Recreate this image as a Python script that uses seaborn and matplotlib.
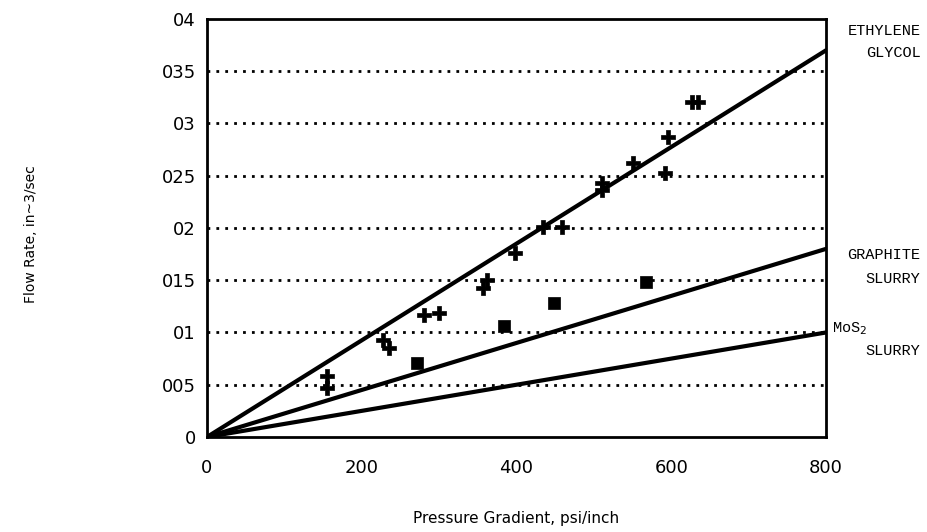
import matplotlib
matplotlib.use("Agg")
import matplotlib.pyplot as plt
import seaborn as sns
import pandas as pd

# Measured flow rates (ethylene glycol, plus markers)
glycol_dp = [155, 155, 228, 235, 280, 300, 357, 362, 398, 434, 459, 510, 510, 550, 592, 596, 627, 635]
glycol_q = [0.058, 0.047, 0.093, 0.085, 0.117, 0.119, 0.143, 0.150, 0.176, 0.201, 0.201, 0.243, 0.236, 0.262, 0.253, 0.287, 0.321, 0.321]

# Measured flow rates (graphite slurry, square markers)
graphite_dp = [271, 384, 448, 568]
graphite_q = [0.071, 0.106, 0.128, 0.148]

# Fitted lines through the origin
line_dp = [0, 800]
line_glycol = [0.0, 0.370]
line_graphite = [0.0, 0.180]
line_mos2 = [0.0, 0.100]

x_ticks = [0, 200, 400, 600, 800]
x_labels = ["0", "200", "400", "600", "800"]
y_ticks = [0, 0.05, 0.1, 0.15, 0.2, 0.25, 0.3, 0.35, 0.4]
y_labels = ["0", "005", "01", "015", "02", "025", "03", "035", "04"]

sns.set_style("white")
plt.rcParams["font.family"] = ["DejaVu Sans"]
plt.rcParams["text.color"] = "black"
plt.rcParams["xtick.color"] = "black"
plt.rcParams["ytick.color"] = "black"
plt.rcParams["axes.labelcolor"] = "black"

fig = plt.figure(figsize=(9.27, 5.32), dpi=100)
ax = fig.add_axes([0.2233, 0.1786, 0.6677, 0.7857])

lines = pd.DataFrame({
    "dp": line_dp * 3,
    "q": line_glycol + line_graphite + line_mos2,
    "fluid": ["glycol"] * 2 + ["graphite"] * 2 + ["mos2"] * 2,
})
sns.lineplot(data=lines, x="dp", y="q", units="fluid", estimator=None,
             color="black", linewidth=3.0, ax=ax, zorder=3)

sns.scatterplot(x=glycol_dp, y=glycol_q, marker="P", s=95, color="black",
                edgecolor="black", linewidth=0.5, ax=ax, zorder=4)
sns.scatterplot(x=graphite_dp, y=graphite_q, marker="s", s=75, color="black",
                edgecolor="black", linewidth=0.5, ax=ax, zorder=4)

for yv in y_ticks[1:-1]:
    ax.axhline(yv, color="black", linestyle=(0, (1, 2.2)), linewidth=2.0, zorder=1)

ax.set_xlim(0, 800)
ax.set_ylim(0, 0.4)
ax.set_xticks(x_ticks)
ax.set_xticklabels(x_labels, fontsize=13)
ax.set_yticks(y_ticks)
ax.set_yticklabels(y_labels, fontsize=13)
ax.tick_params(axis="x", direction="in", length=9, width=2, pad=16)
ax.tick_params(axis="y", direction="out", length=4, width=1.5, pad=4)

for side in ["left", "right", "top", "bottom"]:
    ax.spines[side].set_visible(True)
    ax.spines[side].set_color("black")
    ax.spines[side].set_linewidth(2.0)

ax.set_xlabel("Pressure Gradient, psi/inch", fontsize=11, labelpad=24)
ax.set_ylabel("")
fig.text(0.033, 0.56, "Flow Rate, in~3/sec", rotation=90, fontsize=10,
         ha="center", va="center")

mono = "Liberation Mono"
labels = [
    (0.993, 0.942, "ETHYLENE", "right"),
    (0.993, 0.900, "GLYCOL", "right"),
    (0.993, 0.521, "GRAPHITE", "right"),
    (0.993, 0.476, "SLURRY", "right"),
    (0.898, 0.382, "MoS$_2$", "left"),
    (0.993, 0.340, "SLURRY", "right"),
]
for fx, fy, txt, ha in labels:
    fig.text(fx, fy, txt, ha=ha, va="center", fontsize=11, family=mono)

fig.savefig("out.png", dpi=100)
